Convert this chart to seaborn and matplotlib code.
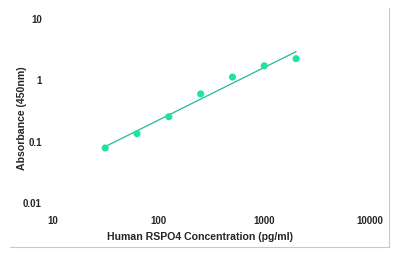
import numpy as np
import pandas as pd
import matplotlib
matplotlib.use("Agg")
import matplotlib.pyplot as plt
from matplotlib.lines import Line2D
import seaborn as sns

# Data
concentration = [31.25, 62.5, 125, 250, 500, 1000, 2000]
absorbance = [0.079, 0.135, 0.255, 0.60, 1.13, 1.72, 2.25]
x_ticks = [10, 100, 1000, 10000]
x_tick_labels = ["10", "100", "1000", "10000"]
y_ticks = [0.01, 0.1, 1, 10]
y_tick_labels = ["0.01", "0.1", "1", "10"]

sns.set_style("white")
plt.rcParams['font.family'] = ['Liberation Sans', 'DejaVu Sans']

df = pd.DataFrame({"conc": concentration, "abs": absorbance})

# Linear fit in log-log space (trend line)
lx = np.log10(df["conc"])
ly = np.log10(df["abs"])
slope, intercept = np.polyfit(lx, ly, 1)
fit_x = np.array([df["conc"].min(), df["conc"].max()])
fit_y = 10 ** (intercept + slope * np.log10(fit_x))
fit_df = pd.DataFrame({"conc": fit_x, "abs": fit_y})

fig = plt.figure(figsize=(4.07, 2.59), dpi=100)
ax = fig.add_axes([0.130, 0.216, 0.779, 0.711])

sns.lineplot(data=fit_df, x="conc", y="abs", ax=ax, color="#23b89c",
             linewidth=0.9, zorder=2)
sns.scatterplot(data=df, x="conc", y="abs", ax=ax, color="#1fe3a0",
                s=26, edgecolor="none", zorder=3)

ax.set_xscale("log")
ax.set_yscale("log")
ax.set_xlim(10, 10000)
ax.set_ylim(0.01, 10)
ax.set_xticks(x_ticks)
ax.set_xticklabels(x_tick_labels)
ax.set_yticks(y_ticks)
ax.set_yticklabels(y_tick_labels)

for s in ax.spines.values():
    s.set_visible(False)

ax.tick_params(axis="both", which="major", length=2, color="#eeeeee",
               labelsize=7)
ax.tick_params(axis="both", which="minor", length=2, color="#f0f0f0")
for lbl in ax.get_xticklabels() + ax.get_yticklabels():
    lbl.set_fontweight("bold")
ax.tick_params(axis="x", which="major", pad=7)
ax.tick_params(axis="y", which="major", pad=6)

ax.set_xlabel("Human RSPO4 Concentration (pg/ml)", fontsize=7.6,
              fontweight="bold")
ax.set_ylabel("Absorbance (450nm)", fontsize=7.6, fontweight="bold",
              va="center")
ax.xaxis.set_label_coords((200 - 53) / 317, -(237 - 203) / 184, transform=ax.transAxes)
ax.xaxis.label.set_va("center")
ax.yaxis.set_label_coords((22 - 53) / 317, 0.46)

# light partial frame (right and bottom)
fig.add_artist(Line2D([389/407, 389/407], [1 - 8/259, 1 - 247/259],
                      transform=fig.transFigure, color="#c8c8c8", lw=0.8))
fig.add_artist(Line2D([10/407, 389/407], [1 - 247/259, 1 - 247/259],
                      transform=fig.transFigure, color="#c8c8c8", lw=0.8))

fig.savefig("out.png", dpi=100)
